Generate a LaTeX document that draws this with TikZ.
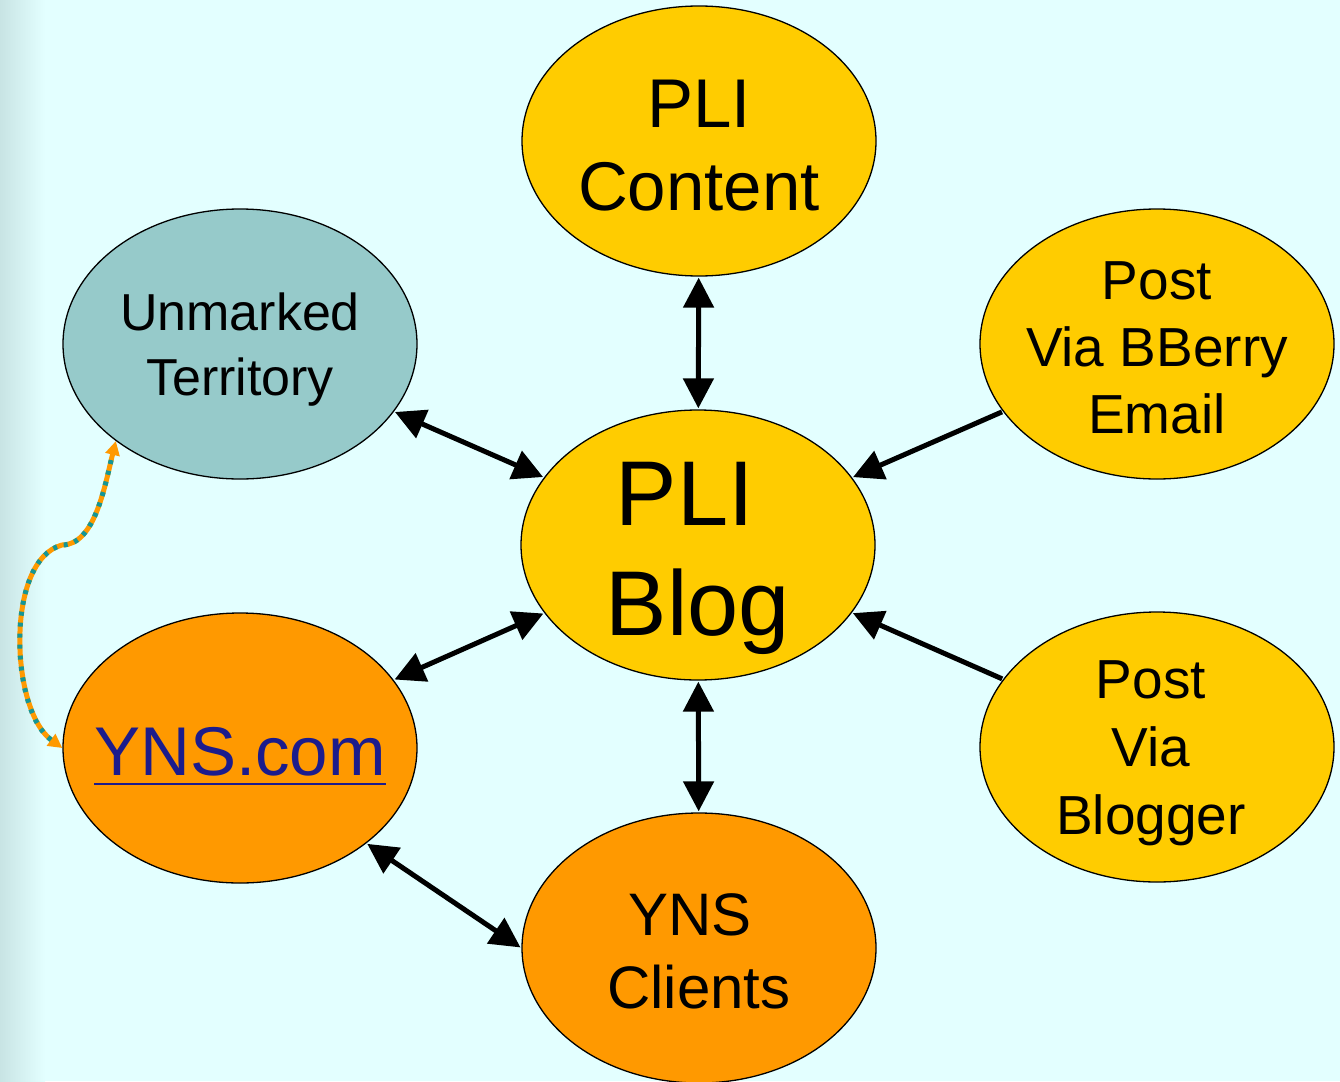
\documentclass[tikz,border=0pt]{standalone}
\usepackage{fontspec}
\setmainfont{Liberation Sans}
\usetikzlibrary{shapes.geometric,arrows.meta}
\definecolor{bgc}{RGB}{227,255,255}
\definecolor{bgl}{RGB}{200,228,228}
\definecolor{yel}{RGB}{255,204,0}
\definecolor{ora}{RGB}{255,153,0}
\definecolor{tea}{RGB}{150,202,202}
\definecolor{linkblue}{RGB}{28,28,140}
\definecolor{stripe}{RGB}{20,150,150}
\tikzset{
  blob/.style={ellipse, draw=black, line width=1.3pt, minimum width=354pt, minimum height=270pt, inner sep=0pt},
  lbl/.style={align=center, inner sep=0pt},
  conn/.style={line width=5pt, black, shorten <=1pt, shorten >=1pt},
  twoway/.style={conn, {Triangle[length=30pt,width=30pt]}-{Triangle[length=30pt,width=30pt]}},
  oneway/.style={conn, -{Triangle[length=30pt,width=30pt]}},
}
\newcommand{\fs}[2]{\fontsize{#1pt}{#2pt}\selectfont}
\begin{document}
\begin{tikzpicture}[x=1pt,y=-1pt]
\useasboundingbox (0,0) rectangle (1340,1081);
\fill[bgc] (0,0) rectangle (1340,1081);
\shade[left color=bgl, right color=bgc] (0,0) rectangle (45,1081);
\begin{scope}
\clip (0,0) rectangle (1340,1081);
\node[blob, fill=yel] (content) at (699,141) {};
\node[blob, fill=tea] (unm) at (240,344) {};
\node[blob, fill=yel] (bberry) at (1157,344) {};
\node[blob, fill=yel] (blog) at (698,545) {};
\node[blob, fill=ora] (yns) at (240,748) {};
\node[blob, fill=yel] (blogger) at (1157,747) {};
\node[blob, fill=ora] (clients) at (699,948) {};
\end{scope}
\node[lbl, font=\fs{69}{83}] (contentt) at (699,146) {PLI\\Content};
\node[lbl, font=\fs{52}{65}] (unmt) at (240,350) {Unmarked\\Territory};
\node[lbl, font=\fs{55}{67}] (bberryt) at (1157,348) {Post\\Via BBerry\\Email};
\node[lbl, font=\fs{92}{110}] (blogt) at (698,558) {PLI\hspace*{26pt}\\Blog};
\node[lbl, font=\fs{69}{83}, text=linkblue] (ynst) at (240,752) {YNS.com};
\draw[linkblue, line width=2.5pt] ([yshift=-8pt]ynst.base west) -- ([yshift=-8pt]ynst.base east);
\node[lbl, font=\fs{55}{68}] (bloggert) at (1151,753) {Post\\Via\\Blogger};
\node[lbl, font=\fs{60}{73}] (clientst) at (699,951) {YNS\hspace*{18pt}\\Clients};
\draw[twoway] (content) -- (blog);
\draw[twoway] (unm) -- (blog);
\draw[oneway] (bberry) -- (blog);
\draw[oneway] (blogger) -- (blog);
\draw[twoway] (yns) -- (blog);
\draw[twoway] (blog) -- (clients);
\draw[twoway] (yns.-37) -- (clients.180);
\coordinate (bend) at (62,545);
\draw[ora, line width=5pt, {Triangle[length=14pt,width=14pt]}-{Triangle[length=14pt,width=14pt]}]
  (yns.west) .. controls (10,710) and (5,560) .. (bend) .. controls (95,545) and (105,485) .. (unm.218);
\draw[stripe, line width=5pt, dash pattern=on 4pt off 7pt, shorten <=14pt, shorten >=14pt]
  (yns.west) .. controls (10,710) and (5,560) .. (bend) .. controls (95,545) and (105,485) .. (unm.218);
\end{tikzpicture}
\end{document}
